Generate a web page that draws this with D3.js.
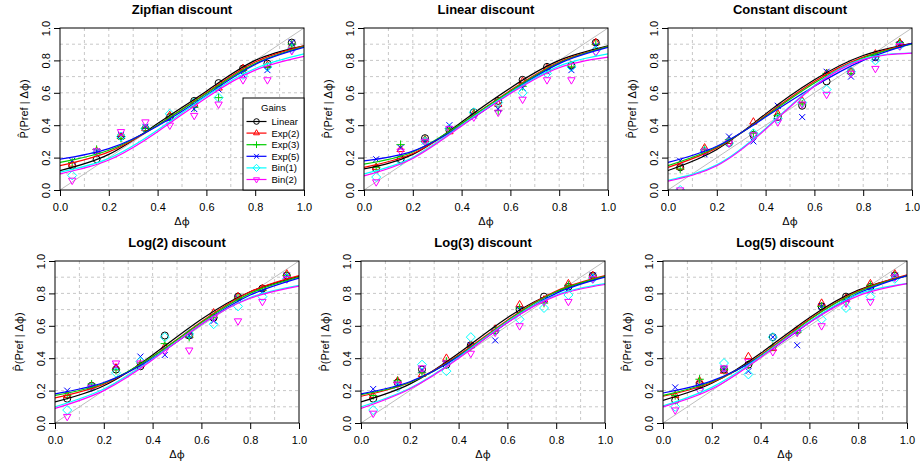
<!DOCTYPE html>
<html>
<head>
<meta charset="utf-8">
<script src="https://cdn.jsdelivr.net/npm/d3@7"></script>
<style>
  body { margin: 0; background: #fff; }
  text { font-family: "Liberation Sans", Arial, Helvetica, sans-serif; }
  .phi { font-family: "Noto Sans", sans-serif; }
</style>
</head>
<body>
<div id="chart"></div>
<script>
// panel titles and gain series
var titles = ["Zipfian discount", "Linear discount", "Constant discount",
              "Log(2) discount", "Log(3) discount", "Log(5) discount"];
var gains = ["Linear", "Exp(2)", "Exp(3)", "Exp(5)", "Bin(1)", "Bin(2)"];
var gainColors = ["#000000", "#FF0000", "#00CD00", "#0000FF", "#00FFFF", "#FF00FF"];
var tickVals = [0, 0.2, 0.4, 0.6, 0.8, 1.0];
var gridVals = [0.1, 0.2, 0.3, 0.4, 0.5, 0.6, 0.7, 0.8, 0.9];

// bin centres of the observed proportions
var binX = [0.05, 0.15, 0.25, 0.35, 0.45, 0.55, 0.65, 0.75, 0.85, 0.95];
// x positions where the fitted curves were read
var fitX = [0, 0.2, 0.4, 0.6, 0.8, 1.0];

// observed points, one row per gain (Linear, Exp2, Exp3, Exp5, Bin1, Bin2)
var zipfPts = [
  [0.15, 0.19, 0.33, 0.38, 0.45, 0.55, 0.66, 0.75, 0.78, 0.91],
  [0.16, 0.24, 0.33, 0.38, 0.46, 0.53, 0.63, 0.75, 0.77, 0.89],
  [0.17, 0.25, 0.32, 0.38, 0.45, 0.51, 0.57, 0.74, 0.76, 0.90],
  [0.18, 0.24, 0.34, 0.39, 0.44, 0.50, 0.62, 0.71, 0.74, 0.91],
  [0.09, 0.23, 0.33, 0.38, 0.47, 0.54, 0.57, 0.71, 0.76, 0.87],
  [0.06, 0.24, 0.36, 0.42, 0.40, 0.46, 0.53, 0.68, 0.68, 0.86]
];
var linPts = [
  [0.13, 0.19, 0.32, 0.37, 0.48, 0.55, 0.68, 0.76, 0.77, 0.91],
  [0.14, 0.25, 0.31, 0.36, 0.47, 0.53, 0.67, 0.75, 0.77, 0.91],
  [0.14, 0.28, 0.31, 0.38, 0.47, 0.49, 0.64, 0.74, 0.76, 0.90],
  [0.19, 0.26, 0.30, 0.40, 0.46, 0.50, 0.63, 0.73, 0.74, 0.89],
  [0.08, 0.18, 0.30, 0.38, 0.48, 0.54, 0.60, 0.72, 0.76, 0.86],
  [0.05, 0.24, 0.30, 0.38, 0.45, 0.48, 0.56, 0.68, 0.68, 0.85]
];
var constPts = [
  [0.14, 0.24, 0.29, 0.34, 0.45, 0.52, 0.67, 0.73, 0.82, 0.90],
  [0.14, 0.26, 0.30, 0.42, 0.47, 0.55, 0.72, 0.73, 0.84, 0.91],
  [0.13, 0.25, 0.31, 0.35, 0.46, 0.53, 0.72, 0.72, 0.83, 0.91],
  [0.18, 0.22, 0.33, 0.30, 0.52, 0.45, 0.73, 0.70, 0.81, 0.90],
  [0.00, 0.24, 0.29, 0.35, 0.44, 0.54, 0.62, 0.73, 0.80, 0.89],
  [0.00, 0.24, 0.29, 0.34, 0.42, 0.53, 0.59, 0.72, 0.75, 0.89]
];
var log2Pts = [
  [0.15, 0.23, 0.33, 0.35, 0.54, 0.54, 0.65, 0.78, 0.83, 0.91],
  [0.17, 0.23, 0.34, 0.36, 0.47, 0.54, 0.68, 0.78, 0.83, 0.92],
  [0.17, 0.24, 0.33, 0.37, 0.49, 0.53, 0.65, 0.77, 0.82, 0.91],
  [0.20, 0.22, 0.35, 0.41, 0.42, 0.54, 0.63, 0.77, 0.81, 0.91],
  [0.08, 0.22, 0.31, 0.38, 0.53, 0.55, 0.61, 0.72, 0.78, 0.89],
  [0.04, 0.22, 0.37, 0.37, 0.45, 0.45, 0.65, 0.63, 0.75, 0.89]
];
var log3Pts = [
  [0.15, 0.25, 0.33, 0.36, 0.48, 0.57, 0.70, 0.78, 0.84, 0.91],
  [0.17, 0.26, 0.30, 0.40, 0.48, 0.58, 0.73, 0.76, 0.86, 0.91],
  [0.17, 0.26, 0.31, 0.38, 0.47, 0.57, 0.71, 0.74, 0.85, 0.90],
  [0.21, 0.24, 0.33, 0.37, 0.48, 0.51, 0.70, 0.76, 0.83, 0.91],
  [0.08, 0.22, 0.36, 0.32, 0.53, 0.57, 0.64, 0.71, 0.79, 0.89],
  [0.06, 0.24, 0.34, 0.37, 0.43, 0.56, 0.60, 0.75, 0.75, 0.89]
];
var log5Pts = [
  [0.14, 0.24, 0.33, 0.36, 0.53, 0.57, 0.72, 0.78, 0.84, 0.91],
  [0.17, 0.26, 0.32, 0.41, 0.46, 0.57, 0.74, 0.77, 0.86, 0.92],
  [0.17, 0.27, 0.33, 0.36, 0.47, 0.56, 0.72, 0.75, 0.85, 0.91],
  [0.22, 0.23, 0.33, 0.32, 0.53, 0.48, 0.72, 0.76, 0.82, 0.91],
  [0.10, 0.21, 0.37, 0.30, 0.53, 0.57, 0.64, 0.71, 0.78, 0.89],
  [0.08, 0.20, 0.34, 0.38, 0.44, 0.56, 0.60, 0.74, 0.75, 0.90]
];

// fitted curves read at fitX, one row per gain
var zipfFit = [
  [0.12, 0.22, 0.41, 0.61, 0.80, 0.89],
  [0.15, 0.235, 0.40, 0.60, 0.79, 0.89],
  [0.17, 0.245, 0.40, 0.595, 0.78, 0.885],
  [0.19, 0.255, 0.395, 0.585, 0.775, 0.88],
  [0.11, 0.195, 0.37, 0.58, 0.75, 0.84],
  [0.10, 0.185, 0.36, 0.57, 0.74, 0.825]
];
var linFit = [
  [0.13, 0.22, 0.42, 0.63, 0.80, 0.89],
  [0.14, 0.225, 0.41, 0.615, 0.79, 0.885],
  [0.16, 0.235, 0.41, 0.61, 0.785, 0.885],
  [0.18, 0.24, 0.40, 0.60, 0.78, 0.88],
  [0.10, 0.20, 0.40, 0.60, 0.765, 0.84],
  [0.087, 0.195, 0.395, 0.595, 0.755, 0.82]
];
var constFit = [
  [0.12, 0.25, 0.47, 0.68, 0.83, 0.905],
  [0.14, 0.26, 0.46, 0.67, 0.82, 0.905],
  [0.15, 0.265, 0.455, 0.66, 0.815, 0.90],
  [0.17, 0.27, 0.45, 0.64, 0.80, 0.905],
  [0.06, 0.155, 0.38, 0.645, 0.81, 0.845],
  [0.055, 0.15, 0.375, 0.64, 0.805, 0.845]
];
var log2Fit = [
  [0.13, 0.23, 0.42, 0.64, 0.81, 0.905],
  [0.155, 0.24, 0.41, 0.625, 0.81, 0.91],
  [0.17, 0.245, 0.41, 0.62, 0.80, 0.90],
  [0.18, 0.25, 0.40, 0.61, 0.79, 0.895],
  [0.10, 0.21, 0.395, 0.61, 0.775, 0.85],
  [0.09, 0.20, 0.39, 0.61, 0.77, 0.845]
];
var log3Fit = [
  [0.13, 0.24, 0.43, 0.65, 0.81, 0.905],
  [0.165, 0.25, 0.42, 0.635, 0.815, 0.91],
  [0.175, 0.25, 0.415, 0.63, 0.81, 0.905],
  [0.18, 0.255, 0.41, 0.62, 0.80, 0.90],
  [0.10, 0.215, 0.405, 0.625, 0.79, 0.86],
  [0.09, 0.21, 0.40, 0.62, 0.785, 0.855]
];
var log5Fit = [
  [0.14, 0.245, 0.43, 0.65, 0.82, 0.91],
  [0.165, 0.25, 0.42, 0.64, 0.815, 0.915],
  [0.17, 0.255, 0.415, 0.635, 0.81, 0.91],
  [0.185, 0.26, 0.41, 0.62, 0.80, 0.91],
  [0.105, 0.22, 0.41, 0.625, 0.795, 0.86],
  [0.10, 0.21, 0.405, 0.62, 0.785, 0.86]
];

var allPts = [zipfPts, linPts, constPts, log2Pts, log3Pts, log5Pts];
var allFit = [zipfFit, linFit, constFit, log2Fit, log3Fit, log5Fit];

var W = 920, H = 466;
var pw = 244, ph = 162;
var origins = [[60, 28], [364, 28], [668, 28], [55, 261], [361, 261], [663, 261]];

var svg = d3.select("#chart").append("svg")
  .attr("width", W).attr("height", H);

// R pch 1..6 shapes
function markerPath(k, s) {
  s = s || 1;
  var p;
  switch (k) {
    case 0: p = d3.path(); p.arc(0, 0, 3.5 * s, 0, 2 * Math.PI); return p.toString();
    case 1: return "M0," + (-4.3 * s) + "L" + (3.7 * s) + "," + (2.1 * s) + "L" + (-3.7 * s) + "," + (2.1 * s) + "Z";
    case 2: return "M" + (-4.2 * s) + ",0H" + (4.2 * s) + "M0," + (-4.2 * s) + "V" + (4.2 * s);
    case 3: return "M" + (-3 * s) + "," + (-3 * s) + "L" + (3 * s) + "," + (3 * s) + "M" + (-3 * s) + "," + (3 * s) + "L" + (3 * s) + "," + (-3 * s);
    case 4: return "M0," + (-4.5 * s) + "L" + (4.5 * s) + ",0L0," + (4.5 * s) + "L" + (-4.5 * s) + ",0Z";
    default: return "M0," + (4.3 * s) + "L" + (3.7 * s) + "," + (-2.1 * s) + "L" + (-3.7 * s) + "," + (-2.1 * s) + "Z";
  }
}

function drawPanel(i) {
  var ox = origins[i][0], oy = origins[i][1];
  var g = svg.append("g").attr("transform", "translate(" + ox + "," + oy + ")");
  var x = d3.scaleLinear().domain([0, 1]).range([0, pw]);
  var y = d3.scaleLinear().domain([0, 1]).range([ph, 0]);

  g.append("clipPath").attr("id", "clip" + i)
    .append("rect").attr("width", pw).attr("height", ph);

  // dashed grid
  g.append("g").selectAll("line.gx").data(gridVals).enter().append("line")
    .attr("x1", function(d) { return x(d); }).attr("x2", function(d) { return x(d); })
    .attr("y1", 0).attr("y2", ph)
    .attr("stroke", "#c8c8c8").attr("stroke-dasharray", "3,3");
  g.append("g").selectAll("line.gy").data(gridVals).enter().append("line")
    .attr("y1", function(d) { return y(d); }).attr("y2", function(d) { return y(d); })
    .attr("x1", 0).attr("x2", pw)
    .attr("stroke", "#c8c8c8").attr("stroke-dasharray", "3,3");

  // diagonal reference
  g.append("line")
    .attr("x1", x(0)).attr("y1", y(0)).attr("x2", x(1)).attr("y2", y(1))
    .attr("stroke", "#bebebe").attr("stroke-width", 1);

  var plot = g.append("g").attr("clip-path", "url(#clip" + i + ")");
  var line = d3.line()
    .x(function(d, j) { return x(fitX[j]); })
    .y(function(d) { return y(d); })
    .curve(d3.curveNatural);

  allPts[i].forEach(function(row, k) {
    plot.selectAll(null).data(row).enter().append("path")
      .attr("d", markerPath(k))
      .attr("transform", function(d, j) { return "translate(" + x(binX[j]) + "," + y(d) + ")"; })
      .attr("fill", "none")
      .attr("stroke", gainColors[k])
      .attr("stroke-width", 1);
  });
  allFit[i].forEach(function(row, k) {
    plot.append("path")
      .attr("d", line(row))
      .attr("fill", "none")
      .attr("stroke", gainColors[k])
      .attr("stroke-width", 1.2);
  });

  // axes
  var xa = g.append("g").attr("transform", "translate(0," + ph + ")")
    .call(d3.axisBottom(x).tickValues(tickVals).tickFormat(d3.format(".1f")).tickSize(6).tickPadding(7));
  var ya = g.append("g")
    .call(d3.axisLeft(y).tickValues(tickVals).tickFormat(d3.format(".1f")).tickSize(6));
  [xa, ya].forEach(function(a) {
    a.select(".domain").remove();
    a.selectAll("text").attr("font-size", 11).attr("fill", "#000")
      .style("font-family", "'Liberation Sans', Arial, sans-serif");
    a.selectAll("line").attr("stroke", "#000");
  });
  ya.selectAll("text")
    .attr("x", null).attr("dy", null)
    .attr("text-anchor", "middle")
    .attr("transform", "translate(-10,0) rotate(-90)");

  // frame
  g.append("rect").attr("width", pw).attr("height", ph)
    .attr("fill", "none").attr("stroke", "#000").attr("stroke-width", 1);

  // titles and labels
  g.append("text").attr("x", pw / 2).attr("y", -14)
    .attr("text-anchor", "middle").attr("font-size", 13).attr("font-weight", "bold")
    .text(titles[i]);
  var xl = g.append("text").attr("x", pw / 2).attr("y", ph + 35)
    .attr("text-anchor", "middle").attr("font-size", 11);
  xl.append("tspan").text("\u0394");
  xl.append("tspan").attr("class", "phi").text("\u03c6");
  var yl = g.append("text")
    .attr("transform", "translate(-32," + (ph / 2) + ") rotate(-90)")
    .attr("text-anchor", "middle").attr("font-size", 11);
  yl.append("tspan").text("P\u0302(Pref | \u0394");
  yl.append("tspan").attr("class", "phi").text("\u03c6");
  yl.append("tspan").text(")");

  if (i === 0) drawLegend(g);
}

function drawLegend(g) {
  var lw = 61, lh = 92;
  var lg = g.append("g").attr("transform", "translate(" + (pw - lw) + "," + (ph - lh) + ")");
  lg.append("rect").attr("width", lw).attr("height", lh)
    .attr("fill", "#fff").attr("stroke", "#000").attr("stroke-width", 1);
  lg.append("text").attr("x", lw / 2).attr("y", 12.5)
    .attr("text-anchor", "middle").attr("font-size", 9.5).text("Gains");
  gains.forEach(function(name, k) {
    var yy = 23.5 + k * 11.6;
    lg.append("line").attr("x1", 3.5).attr("x2", 23.5).attr("y1", yy).attr("y2", yy)
      .attr("stroke", gainColors[k]).attr("stroke-width", 1.2);
    lg.append("path").attr("d", markerPath(k, 0.8))
      .attr("transform", "translate(13.5," + yy + ")")
      .attr("fill", "none").attr("stroke", gainColors[k]).attr("stroke-width", 1);
    lg.append("text").attr("x", 28.5).attr("y", yy + 3.4)
      .attr("font-size", 9.5).text(name);
  });
}

titles.forEach(function(t, i) { drawPanel(i); });
</script>
</body>
</html>
